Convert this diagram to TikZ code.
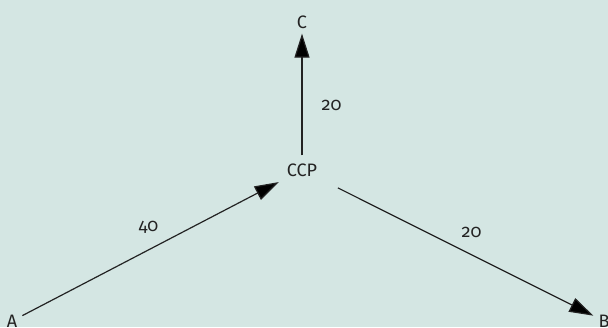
\documentclass[tikz,border=0pt]{standalone}
\usepackage{fontspec}
\setmainfont{Fira Sans}[Numbers=OldStyle]
\usetikzlibrary{arrows.meta,positioning}
\definecolor{bgteal}{RGB}{212,230,227}
\definecolor{ink}{RGB}{35,35,35}

\begin{document}
\begin{tikzpicture}[x=1pt,y=1pt,node distance=2cm,on grid,auto,
    every node/.style={font=\fontsize{18}{20}\selectfont,text=ink},
    place/.style={inner sep=5pt},
    hub/.style={inner sep=8pt},
    amount/.style={inner sep=7pt},
    flow/.style={draw=ink,line width=1.2pt,-{Triangle[length=24pt,width=15pt]}}]
  \fill[bgteal] (0,0) rectangle (608,327);
  \useasboundingbox (0,0) rectangle (608,327);
  \node[hub] (ccp) at (302,157) {CCP};
  \node[place] (c) [above=148pt of ccp] {C};
  \node[place] (a) [below left=151pt and 290pt of ccp] {A};
  \node[place] (b) [below right=151pt and 302pt of ccp] {B};
  \path[flow]
  (a) edge node[amount,pos=.56] {40} (ccp)
  (ccp) edge node[amount,swap,pos=.41,xshift=12pt] {20} (c)
  (ccp) edge[shorten <=14pt] node[amount,pos=.48,yshift=1pt] {20} (b);
\end{tikzpicture}
\end{document}
